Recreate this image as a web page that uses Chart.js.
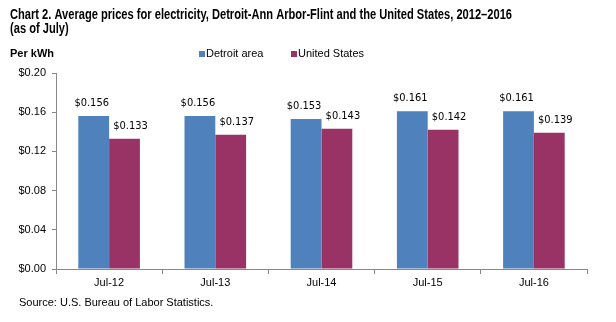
<!DOCTYPE html>
<html>
<head>
<meta charset="utf-8">
<script src="https://cdn.jsdelivr.net/npm/chart.js@4/dist/chart.umd.min.js"></script>
<style>
  html, body { margin: 0; padding: 0; background: #fff; }
  #wrap { width: 616px; height: 322px; position: relative; }
</style>
</head>
<body>
<div id="wrap"><canvas id="chart"></canvas></div>
<script>
// Electricity prices per kWh, July of each year
const labels = ['Jul-12', 'Jul-13', 'Jul-14', 'Jul-15', 'Jul-16'];
const detroit = [0.156, 0.156, 0.153, 0.161, 0.161];
const usa = [0.133, 0.137, 0.143, 0.142, 0.139];
const yTicks = [0, 0.04, 0.08, 0.12, 0.16, 0.20];

const BLUE = '#4F81BD';
const PLUM = '#993366';
const AXIS = '#888888';
const SANS = 'Arial, "Liberation Sans", sans-serif';
const TITLE1 = 'Chart 2. Average prices for electricity, Detroit-Ann Arbor-Flint and the United States, 2012\u20132016';
const TITLE2 = '(as of July)';

const money = (v) => '$' + v.toFixed(3);

// titles, unit, legend, source and value labels
const decorations = {
    id: 'decorations',
    afterDraw(chart) {
        const ctx = chart.ctx;
        ctx.save();
        ctx.fillStyle = '#000';
        ctx.textBaseline = 'alphabetic';
        ctx.textAlign = 'left';

        // condensed bold title
        ctx.font = 'bold 14px ' + SANS;
        const sx = 502 / ctx.measureText(TITLE1).width;
        ctx.save();
        ctx.translate(10, 0);
        ctx.scale(sx, 1);
        ctx.fillText(TITLE1, 0, 19);
        ctx.fillText(TITLE2, 0, 33);
        ctx.restore();

        ctx.font = 'bold 11px ' + SANS;
        ctx.textBaseline = 'middle';
        ctx.fillText('Per kWh', 10, 54);

        // legend
        ctx.font = '11px ' + SANS;
        const items = [[199, 0], [291, 1]];
        items.forEach(([x, i]) => {
            const ds = chart.data.datasets[i];
            ctx.fillStyle = ds.backgroundColor;
            ctx.fillRect(x, 51, 6, 6);
            ctx.fillStyle = '#000';
            ctx.fillText(ds.label, x + 7, 54);
        });

        ctx.textBaseline = 'alphabetic';
        ctx.fillText('Source: U.S. Bureau of Labor Statistics.', 19, 306);

        // value labels above each bar
        ctx.font = '11px "DejaVu Sans Condensed", "DejaVu Sans", Verdana, sans-serif';
        ctx.textAlign = 'center';
        const shift = [-2, 6];
        chart.data.datasets.forEach((ds, di) => {
            chart.getDatasetMeta(di).data.forEach((bar, i) => {
                ctx.fillText(money(ds.data[i]), bar.x + shift[di], bar.y - 10);
            });
        });
        ctx.restore();
    }
};

new Chart(document.getElementById('chart'), {
    type: 'bar',
    data: {
        labels: labels,
        datasets: [
            { label: 'Detroit area', data: detroit, backgroundColor: BLUE },
            { label: 'United States', data: usa, backgroundColor: PLUM },
        ],
    },
    options: {
        responsive: true,
        maintainAspectRatio: false,
        animation: false,
        events: [],
        layout: { padding: { left: 0, right: 29, top: 73, bottom: 31 } },
        plugins: { legend: { display: false }, tooltip: { enabled: false }, title: { display: false } },
        datasets: { bar: { categoryPercentage: 0.58, barPercentage: 1 } },
        scales: {
            x: {
                grid: { offset: true, drawOnChartArea: false, drawTicks: true, tickLength: 5, color: AXIS },
                border: { color: AXIS },
                ticks: { color: '#000', font: { family: SANS, size: 11 }, padding: 2, maxRotation: 0 },
                afterFit: (s) => { s.height = 22; },
            },
            y: {
                min: 0, max: 0.2,
                afterBuildTicks: (s) => { s.ticks = yTicks.map((v) => ({ value: v })); },
                grid: { drawOnChartArea: false, drawTicks: true, tickLength: 4, color: AXIS },
                border: { color: AXIS },
                ticks: { color: '#000', font: { family: SANS, size: 11 }, padding: 6, callback: (v) => '$' + v.toFixed(2) },
                afterFit: (s) => { s.width = 56; },
            },
        },
    },
    plugins: [decorations],
});
</script>
</body>
</html>
